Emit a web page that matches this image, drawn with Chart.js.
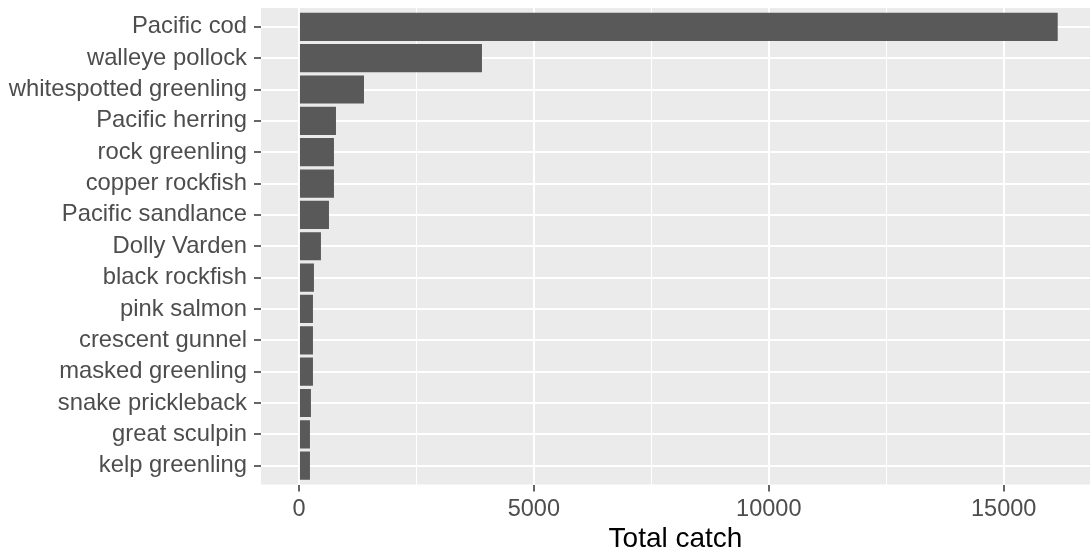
<!DOCTYPE html>
<html>
<head>
<meta charset="utf-8">
<script src="https://cdn.jsdelivr.net/npm/chart.js@4"></script>
<style>
  body { margin: 0; background: #ffffff; }
  #wrap { width: 1090px; height: 555px; position: relative; }
</style>
</head>
<body>
<div id="wrap"><canvas id="catchChart"></canvas></div>
<script>
// species, top to bottom
const species = [
  'Pacific cod',
  'walleye pollock',
  'whitespotted greenling',
  'Pacific herring',
  'rock greenling',
  'copper rockfish',
  'Pacific sandlance',
  'Dolly Varden',
  'black rockfish',
  'pink salmon',
  'crescent gunnel',
  'masked greenling',
  'snake prickleback',
  'great sculpin',
  'kelp greenling',
];

const totalCatch = [16150, 3895, 1384, 788, 745, 745, 639, 468, 319, 298, 298, 298, 255, 234, 234];

const xMajorTicks = [0, 5000, 10000, 15000];
const xMinorTicks = [2500, 7500, 12500];

const panelBg = '#EBEBEB';
const barColor = '#595959';

// grey panel behind the plot
const panelPlugin = {
  id: 'panel',
  beforeDraw(chart) {
    const a = chart.chartArea;
    const ctx = chart.ctx;
    ctx.save();
    ctx.fillStyle = panelBg;
    ctx.fillRect(a.left, a.top, a.right - a.left, a.bottom - a.top);
    ctx.restore();
  }
};

const isMajor = (ctx) => ctx.tick && xMajorTicks.includes(ctx.tick.value);

const chartData = {
  datasets: [{
    label: 'Total catch',
    data: totalCatch.map((v, i) => ({ x: v, y: i })),
    backgroundColor: barColor,
    borderWidth: 0,
    barPercentage: 0.9,
    categoryPercentage: 1.0,
  }]
};

const config = {
  type: 'bar',
  data: chartData,
  plugins: [panelPlugin],
  options: {
    indexAxis: 'y',
    responsive: true,
    maintainAspectRatio: false,
    animation: false,
    layout: { padding: { top: 8, right: 0, left: 0, bottom: 0 } },
    plugins: {
      legend: { display: false },
      tooltip: { enabled: false },
    },
    scales: {
      x: {
        type: 'linear',
        min: -808,
        max: 16837,
        border: { display: false },
        afterBuildTicks(scale) {
          scale.ticks = xMajorTicks.concat(xMinorTicks).sort((a, b) => a - b).map(v => ({ value: v }));
        },
        afterFit(scale) {
          scale.height = 70.5;
          scale.paddingLeft = 0;
          scale.paddingRight = 0;
        },
        grid: {
          color: '#FFFFFF',
          lineWidth: (ctx) => isMajor(ctx) ? 2 : 1,
          tickColor: (ctx) => isMajor(ctx) ? '#333333' : 'rgba(0,0,0,0)',
          tickLength: 7,
          tickWidth: 1.5,
        },
        ticks: {
          autoSkip: false,
          maxRotation: 0,
          padding: 4,
          color: '#4D4D4D',
          font: { family: 'Liberation Sans', size: 23.5 },
          callback: (value) => xMajorTicks.includes(value) ? String(value) : '',
        },
        title: {
          display: true,
          text: 'Total catch',
          color: '#000000',
          font: { family: 'Liberation Sans', size: 28, lineHeight: 1.15 },
          padding: { top: 0, bottom: 0 },
        },
      },
      y: {
        type: 'linear',
        reverse: true,
        offset: false,
        min: -0.6,
        max: species.length - 1 + 0.6,
        border: { display: false },
        afterBuildTicks(scale) {
          scale.ticks = species.map((s, i) => ({ value: i }));
        },
        afterFit(scale) {
          scale.width = 261;
          scale.paddingTop = 0;
          scale.paddingBottom = 0;
        },
        grid: {
          offset: false,
          color: '#FFFFFF',
          lineWidth: 2,
          tickColor: '#333333',
          tickLength: 7,
          tickWidth: 1.5,
        },
        ticks: {
          autoSkip: false,
          padding: 7,
          color: '#4D4D4D',
          font: { family: 'Liberation Sans', size: 23.8 },
          callback: (value) => species[value],
        },
      },
    },
  },
};

const myChart = new Chart(document.getElementById('catchChart'), config);
</script>
</body>
</html>
